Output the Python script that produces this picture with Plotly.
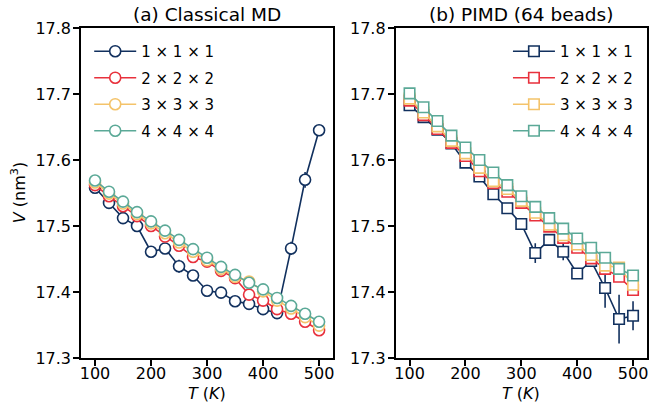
import plotly.graph_objects as go

T = [100, 125, 150, 175, 200, 225, 250, 275, 300, 325, 350, 375, 400, 425, 450, 475, 500]
labels = ["1 × 1 × 1", "2 × 2 × 2", "3 × 3 × 3", "4 × 4 × 4"]
colors = ["#11305e", "#e8313c", "#f4c36a", "#5ba997"]

# (a) Classical MD
md_1 = [17.558, 17.535, 17.512, 17.500, 17.461, 17.466, 17.439, 17.425, 17.402, 17.399,
        17.386, 17.382, 17.374, 17.368, 17.466, 17.570, 17.645]
md_1_err = [0.002, 0.002, 0.002, 0.002, 0.003, 0.004, 0.010, 0.004, 0.003, 0.003,
            0.005, 0.008, 0.004, 0.009, 0.010, 0.012, 0.004]
md_2 = [17.562, 17.545, 17.530, 17.515, 17.500, 17.484, 17.470, 17.453, 17.446, 17.432,
        17.421, 17.396, 17.387, 17.374, 17.367, 17.355, 17.342]
md_3 = [17.566, 17.549, 17.534, 17.518, 17.504, 17.489, 17.475, 17.461, 17.448, 17.435,
        17.423, 17.416, 17.401, 17.387, 17.375, 17.362, 17.349]
md_4 = [17.569, 17.552, 17.537, 17.521, 17.507, 17.493, 17.479, 17.465, 17.452, 17.438,
        17.426, 17.414, 17.404, 17.391, 17.379, 17.367, 17.355]
small_err = [0.002] * 17

# (b) PIMD (64 beads)
pi_1 = [17.683, 17.665, 17.646, 17.625, 17.596, 17.575, 17.548, 17.527, 17.503, 17.459,
        17.479, 17.461, 17.428, 17.447, 17.406, 17.359, 17.364]
pi_1_err = [0.002, 0.002, 0.002, 0.002, 0.003, 0.003, 0.003, 0.003, 0.003, 0.015,
            0.004, 0.013, 0.004, 0.004, 0.030, 0.037, 0.022]
pi_2 = [17.690, 17.668, 17.647, 17.626, 17.606, 17.583, 17.565, 17.552, 17.535, 17.516,
        17.499, 17.482, 17.467, 17.451, 17.435, 17.423, 17.403]
pi_3 = [17.693, 17.672, 17.651, 17.629, 17.610, 17.588, 17.568, 17.556, 17.538, 17.520,
        17.502, 17.486, 17.472, 17.456, 17.440, 17.437, 17.411]
pi_4 = [17.701, 17.680, 17.659, 17.637, 17.619, 17.600, 17.581, 17.562, 17.545, 17.529,
        17.512, 17.496, 17.481, 17.467, 17.452, 17.435, 17.425]

md_series = [(md_1, md_1_err), (md_2, small_err), (md_3, small_err), (md_4, small_err)]
pi_series = [(pi_1, pi_1_err), (pi_2, small_err), (pi_3, small_err), (pi_4, small_err)]

FONT = "DejaVu Sans"
fig = go.Figure()

for i, (vals, err) in enumerate(md_series):
    fig.add_trace(go.Scatter(
        x=T, y=vals, mode="lines+markers", name=labels[i], legendgroup="a%d" % i,
        line=dict(color=colors[i], width=1.6),
        marker=dict(symbol="circle", size=11, color="white",
                    line=dict(color=colors[i], width=1.6)),
        error_y=dict(type="data", array=err, color=colors[i], thickness=1.6, width=0),
        xaxis="x", yaxis="y", legend="legend"))

for i, (vals, err) in enumerate(pi_series):
    fig.add_trace(go.Scatter(
        x=T, y=vals, mode="lines+markers", name=labels[i], legendgroup="b%d" % i,
        line=dict(color=colors[i], width=1.6),
        marker=dict(symbol="square", size=10.5, color="white",
                    line=dict(color=colors[i], width=1.6)),
        error_y=dict(type="data", array=err, color=colors[i], thickness=1.6, width=0),
        xaxis="x2", yaxis="y2", legend="legend2"))

axis_common = dict(showline=True, linecolor="black", linewidth=1.5, mirror=True,
                   ticks="outside", ticklen=6, tickwidth=1.5, tickcolor="black",
                   showgrid=False, zeroline=False,
                   tickfont=dict(family=FONT, size=16, color="black"))

xcommon = dict(range=[75, 525], tickvals=[100, 200, 300, 400, 500], ticklabelstandoff=-6,
               **axis_common)
ycommon = dict(domain=[0, 1], range=[17.3, 17.8], dtick=0.1, tick0=17.3, tickformat=".1f",
               ticklabelstandoff=-1, **axis_common)

fig.update_layout(
    width=653, height=405,
    margin=dict(l=81, r=4, t=28, b=47),
    plot_bgcolor="white", paper_bgcolor="white",
    font=dict(family=FONT, size=16, color="black"),
    xaxis=dict(domain=[0, 0.4454], anchor="y", **xcommon),
    yaxis=dict(anchor="x", **ycommon),
    xaxis2=dict(domain=[0.5558, 1], anchor="y2", **xcommon),
    yaxis2=dict(anchor="x2", **ycommon),
    legend=dict(x=0.0145, y=0.979, xanchor="left", yanchor="top", bgcolor="rgba(0,0,0,0)",
                font=dict(family=FONT, size=15), tracegroupgap=4, itemwidth=42),
    legend2=dict(x=0.984, y=0.979, xanchor="right", yanchor="top", bgcolor="rgba(0,0,0,0)",
                 font=dict(family=FONT, size=15), tracegroupgap=4, itemwidth=42),
    annotations=[
        dict(text="(a) Classical MD", x=0.2227, y=1.0, xref="paper", yref="paper",
             xanchor="center", yanchor="bottom", yshift=1, showarrow=False,
             font=dict(family=FONT, size=18.5)),
        dict(text="(b) PIMD (64 beads)", x=0.7779, y=1.0, xref="paper", yref="paper",
             xanchor="center", yanchor="bottom", yshift=1, showarrow=False,
             font=dict(family=FONT, size=18.5)),
        dict(text="<i>T</i> (<i>K</i>)", x=0.2227, y=-0.107, xref="paper", yref="paper",
             xanchor="center", yanchor="middle", showarrow=False,
             font=dict(family=FONT, size=16)),
        dict(text="<i>T</i> (<i>K</i>)", x=0.7779, y=-0.107, xref="paper", yref="paper",
             xanchor="center", yanchor="middle", showarrow=False,
             font=dict(family=FONT, size=16)),
        dict(text="<i>V</i> (nm<sup>3</sup>)", x=-0.111, y=0.5, xref="paper", yref="paper",
             xanchor="center", yanchor="middle", textangle=-90, showarrow=False,
             font=dict(family=FONT, size=16)),
    ],
)

fig.write_html("out.html")
